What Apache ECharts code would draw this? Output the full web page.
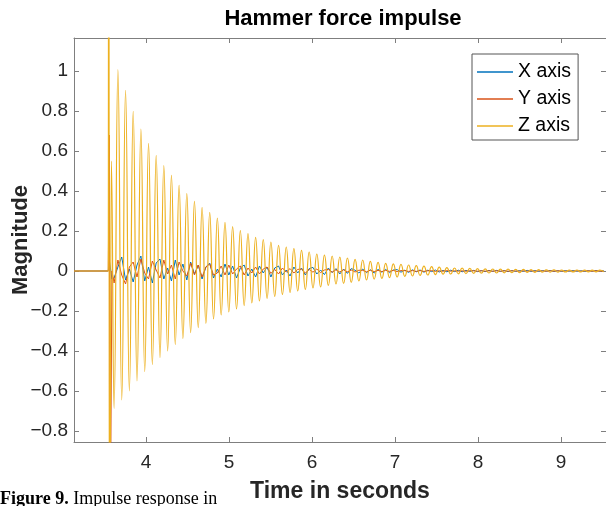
<!DOCTYPE html>
<html>
<head>
<meta charset="utf-8">
<script src="https://cdn.jsdelivr.net/npm/echarts@6/dist/echarts.min.js"></script>
<style>
html,body{margin:0;padding:0;background:#fff;}
#chart{width:606px;height:506px;}
</style>
</head>
<body>
<div id="chart"></div>
<script>
// ---------- data ----------
const seriesNames = ['X axis', 'Y axis', 'Z axis'];
const titleText = 'Hammer force impulse';
const xAxisName = 'Time in seconds';
const yAxisName = 'Magnitude';
const captionBold = 'Figure 9.';
const captionRest = ' Impulse response in';

const timeRange = [3.133, 9.542];
const magnitudeRange = [-0.855, 1.165];

// quiet part before the hammer hit (all three channels at zero)
const quietTime = [3.133, 3.546];
const quietValue = [0, 0];

// the hit itself
const xHitTime = [3.560, 3.590];
const xHitValue = [0.05, -0.04];
const yHitTime = [3.558, 3.568, 3.590];
const yHitValue = [0.68, -1.5, 0.0];
const zHitTime = [3.551, 3.561, 3.583];
const zHitValue = [3.0, -2.0, 0.55];

// ringing: turning points of the Z response (shared sample times)
const sampleTime = [
  3.616,3.662,3.708,3.754,3.800,3.846,3.892,3.939,3.985,4.031,
  4.077,4.123,4.169,4.215,4.261,4.307,4.353,4.399,4.445,4.492,
  4.538,4.584,4.630,4.676,4.722,4.768,4.814,4.860,4.906,4.952,
  4.998,5.044,5.091,5.137,5.183,5.229,5.275,5.321,5.367,5.413,
  5.459,5.505,5.551,5.597,5.644,5.690,5.736,5.782,5.828,5.874,
  5.920,5.966,6.012,6.058,6.104,6.150,6.197,6.243,6.289,6.335,
  6.381,6.427,6.473,6.519,6.565,6.611,6.657,6.703,6.749,6.796,
  6.842,6.888,6.934,6.980,7.026,7.072,7.118,7.164,7.210,7.256,
  7.302,7.349,7.395,7.441,7.487,7.533,7.579,7.625,7.671,7.717,
  7.763,7.809,7.855,7.901,7.948,7.994,8.040,8.086,8.132,8.178,
  8.224,8.270,8.316,8.362,8.408,8.454,8.501,8.547,8.593,8.639,
  8.685,8.731,8.777,8.823,8.869,8.915,8.961,9.007,9.053,9.100,
  9.146,9.192,9.238,9.284,9.330,9.376,9.422,9.468,9.514
];

const zSignal = [
  -0.687,1.007,-0.645,0.903,-0.600,0.798,-0.550,0.710,-0.503,0.638,
  -0.467,0.578,-0.433,0.527,-0.400,0.478,-0.367,0.428,-0.337,0.387,
  -0.308,0.348,-0.283,0.318,-0.262,0.293,-0.240,0.265,-0.220,0.243,
  -0.205,0.222,-0.190,0.202,-0.173,0.187,-0.160,0.168,-0.150,0.157,
  -0.137,0.145,-0.127,0.128,-0.117,0.120,-0.107,0.112,-0.100,0.103,
  -0.092,0.095,-0.085,0.085,-0.080,0.080,-0.072,0.075,-0.065,0.070,
  -0.062,0.065,-0.057,0.058,-0.050,0.055,-0.045,0.048,-0.041,0.043,
  -0.037,0.038,-0.033,0.036,-0.030,0.033,-0.027,0.030,-0.025,0.027,
  -0.022,0.024,-0.020,0.022,-0.018,0.019,-0.016,0.017,-0.015,0.015,
  -0.014,0.014,-0.013,0.013,-0.012,0.012,-0.011,0.011,-0.010,0.010,
  -0.010,0.009,-0.009,0.009,-0.008,0.008,-0.008,0.008,-0.007,0.007,
  -0.007,0.007,-0.006,0.006,-0.006,0.006,-0.006,0.005,-0.005,0.005,
  -0.005,0.005,-0.005,0.004,-0.004,0.004,-0.004,0.004,-0.004
];

const xSignal = [
  -0.035,0.020,0.070,-0.045,0.010,-0.055,0.030,0.075,-0.050,0.020,
  -0.060,0.040,0.060,-0.040,0.015,-0.050,0.055,-0.020,0.035,-0.045,
  0.045,-0.015,0.030,-0.040,0.020,0.040,-0.035,0.010,-0.030,0.035,
  -0.020,0.025,-0.035,0.015,0.030,-0.025,0.010,-0.030,0.025,-0.010,
  0.020,-0.030,0.015,0.025,-0.020,0.005,-0.025,0.020,-0.010,0.015,
  -0.020,0.012,0.018,-0.015,0.005,-0.018,0.015,-0.008,0.012,-0.015,
  0.010,-0.012,0.012,0.004,-0.010,0.010,-0.008,0.006,-0.010,0.008,
  -0.006,0.008,-0.008,0.005,0.007,-0.006,0.004,-0.007,0.006,-0.004,
  0.005,-0.006,0.004,-0.003,0.005,-0.005,0.003,-0.004,0.004,-0.003,
  0.004,-0.004,0.003,-0.002,0.003,-0.003,0.002,-0.003,0.003,-0.002,
  0.003,-0.002,0.002,-0.003,0.002,-0.002,0.002,-0.002,0.003,-0.002,
  0.002,-0.002,0.002,-0.001,0.002,-0.002,0.001,-0.002,0.002,-0.001,
  0.002,-0.001,0.001,-0.002,0.001,-0.001,0.002,-0.001,0.001
];

const ySignal = [
  -0.060,0.055,-0.020,-0.065,0.020,0.045,-0.030,0.060,-0.010,-0.040,
  0.050,0.005,-0.035,0.055,-0.015,0.030,-0.040,0.045,0.000,-0.025,
  0.040,-0.020,0.030,-0.030,0.020,0.035,-0.020,-0.010,0.025,-0.020,
  0.030,-0.015,0.010,0.025,-0.020,0.015,-0.010,0.020,-0.015,0.010,
  0.020,-0.012,0.008,-0.015,0.015,-0.005,0.012,-0.010,0.008,0.010,
  -0.010,0.008,-0.006,0.010,-0.008,0.005,0.008,-0.006,0.006,-0.005,
  0.006,-0.004,0.005,-0.005,0.004,0.003,-0.004,0.004,-0.003,0.003,
  -0.003,0.003,-0.002,0.003,-0.003,0.002,0.002,-0.002,0.002,-0.002,
  0.002,-0.002,0.001,0.002,-0.002,0.001,-0.001,0.002,-0.001,0.001,
  -0.001,0.001,-0.001,0.001,0.001,-0.001,0.001,-0.001,0.001,-0.001,
  0.001,-0.001,0.001,-0.001,0.001,0.000,-0.001,0.001,-0.001,0.001,
  -0.001,0.001,0.000,-0.001,0.001,-0.001,0.001,0.000,-0.001,0.001,
  -0.001,0.001,-0.001,0.000,0.001,-0.001,0.001,-0.001,0.000
];

// ---------- build ----------
function pairs(t, v) { return t.map(function (ti, i) { return [ti, v[i]]; }); }
const xData = pairs(quietTime, quietValue).concat(pairs(xHitTime, xHitValue), pairs(sampleTime, xSignal));
const yData = pairs(quietTime, quietValue).concat(pairs(yHitTime, yHitValue), pairs(sampleTime, ySignal));
const zData = pairs(quietTime, quietValue).concat(pairs(zHitTime, zHitValue), pairs(sampleTime, zSignal));

const FONT = '"Liberation Sans", Arial, Helvetica, sans-serif';
const SERIF = '"Liberation Serif", "Times New Roman", serif';
const axisGray = '#7f7f7f';
function minusFmt(v) { return String(v).replace('-', '\u2212'); }
const tickLabel = { fontSize: 19, color: '#262626', fontFamily: FONT, formatter: minusFmt };

const chart = echarts.init(document.getElementById('chart'), null, { renderer: 'canvas' });
chart.setOption({
  animation: false,
  backgroundColor: '#ffffff',
  color: ['#0072BD', '#D95319', '#EDB120'],
  grid: { left: 74, top: 38, right: 0, bottom: 64, containLabel: false, outerBoundsMode: 'none' },
  legend: {
    data: seriesNames,
    orient: 'vertical',
    left: 472, top: 54,
    icon: 'rect', itemWidth: 36, itemHeight: 1.5, itemGap: 7,
    textStyle: { fontSize: 19.5, color: '#000', fontFamily: FONT, lineHeight: 20 },
    backgroundColor: '#ffffff',
    borderColor: '#555555', borderWidth: 1, borderRadius: 0,
    padding: [8, 7, 4, 5]
  },
  xAxis: [{
    type: 'value', position: 'bottom',
    min: timeRange[0], max: timeRange[1], splitNumber: 6,
    axisLine: { show: true, onZero: false, lineStyle: { color: axisGray, width: 1 } },
    axisTick: { show: true, inside: true, length: 5, lineStyle: { color: axisGray } },
    axisLabel: Object.assign({ margin: 11, showMinLabel: false, showMaxLabel: false }, tickLabel),
    splitLine: { show: false },
    name: xAxisName, nameLocation: 'middle', nameGap: 38,
    nameTextStyle: { fontSize: 23, fontWeight: 'bold', color: '#262626', fontFamily: FONT }
  }, {
    type: 'value', position: 'top',
    min: timeRange[0], max: timeRange[1], splitNumber: 6,
    axisLine: { show: true, onZero: false, lineStyle: { color: axisGray, width: 1 } },
    axisTick: { show: true, inside: true, length: 5, lineStyle: { color: axisGray } },
    axisLabel: { show: false }, splitLine: { show: false }
  }],
  yAxis: [{
    type: 'value', position: 'left',
    min: magnitudeRange[0], max: magnitudeRange[1], splitNumber: 10,
    axisLine: { show: true, onZero: false, lineStyle: { color: axisGray, width: 1 } },
    axisTick: { show: true, inside: true, length: 5, lineStyle: { color: axisGray } },
    axisLabel: Object.assign({ margin: 6, showMinLabel: false, showMaxLabel: false }, tickLabel),
    splitLine: { show: false },
    name: yAxisName, nameLocation: 'middle', nameGap: 42, nameMoveOverlap: false,
    nameTextStyle: { fontSize: 22, fontWeight: 'bold', color: '#262626', fontFamily: FONT }
  }, {
    type: 'value', position: 'right',
    min: magnitudeRange[0], max: magnitudeRange[1], splitNumber: 10,
    axisLine: { show: false },
    axisTick: { show: true, inside: true, length: 5, lineStyle: { color: axisGray } },
    axisLabel: { show: false }, splitLine: { show: false }
  }],
  graphic: [{
    type: 'text', x: 343, y: 8, z: 10,
    style: { text: titleText, font: 'bold 22px ' + FONT, fill: '#000', textAlign: 'center', textVerticalAlign: 'top' }
  }, {
    type: 'text', x: 0, y: 490, z: 10,
    style: {
      text: '{b|' + captionBold + '}{r|' + captionRest + '}',
      fill: '#000', textVerticalAlign: 'top',
      rich: {
        b: { fontWeight: 'bold', fontSize: 18, fontFamily: SERIF, fill: '#000' },
        r: { fontWeight: 'normal', fontSize: 18, fontFamily: SERIF, fill: '#000' }
      }
    }
  }],
  series: [{
    name: seriesNames[0], type: 'line', data: xData, xAxisIndex: 0, yAxisIndex: 0,
    symbol: 'none', lineStyle: { width: 1, color: '#0072BD' }, z: 2
  }, {
    name: seriesNames[1], type: 'line', data: yData, xAxisIndex: 0, yAxisIndex: 0,
    symbol: 'none', lineStyle: { width: 1, color: '#D95319' }, z: 3
  }, {
    name: seriesNames[2], type: 'line', data: zData, xAxisIndex: 0, yAxisIndex: 0,
    symbol: 'none', smooth: 0.5, smoothMonotone: 'x',
    lineStyle: { width: 1.2, color: '#EDB120' }, z: 4
  }]
});
</script>
</body>
</html>
